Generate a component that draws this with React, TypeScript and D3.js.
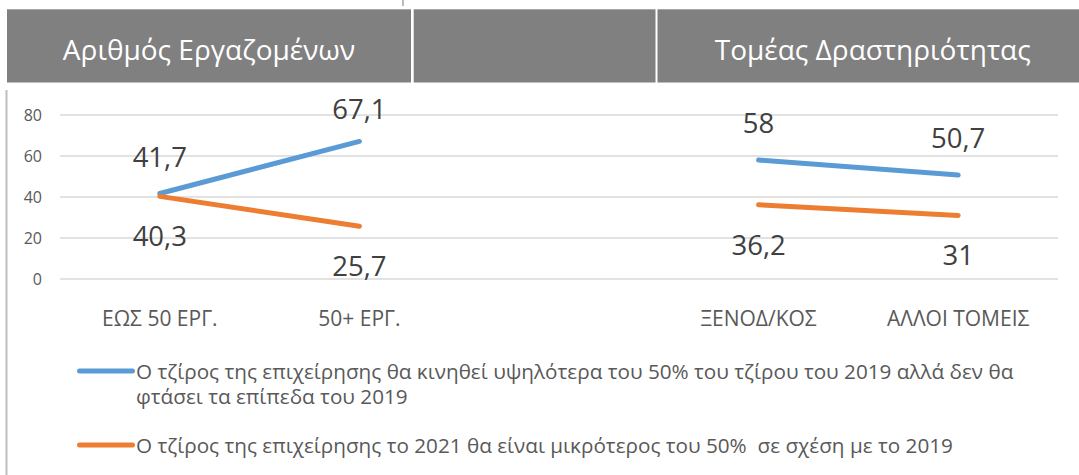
import React, { useEffect, useRef } from 'react';
import * as d3 from 'd3';

// categories (the empty one is the gap between the two groups)
const categories = ['ΕΩΣ 50 ΕΡΓ.', '50+ ΕΡΓ.', '', 'ΞΕΝΟΔ/ΚΟΣ', 'ΑΛΛΟΙ ΤΟΜΕΙΣ'];
const higherValues = [41.7, 67.1, null, 58, 50.7];
const lowerValues = [40.3, 25.7, null, 36.2, 31];
const yTicks = [0, 20, 40, 60, 80];
const groupTitles = ['Αριθμός Εργαζομένων', '', 'Τομέας Δραστηριότητας'];
const higherLegend = [
  'Ο τζίρος της επιχείρησης θα κινηθεί υψηλότερα του 50% του τζίρου του 2019 αλλά δεν θα',
  'φτάσει τα επίπεδα του 2019',
];
const lowerLegend = ['Ο τζίρος της επιχείρησης το 2021 θα είναι μικρότερος του 50%  σε σχέση με το 2019'];

const BLUE = '#5b9bd5';
const ORANGE = '#ed7d31';
const FONT = '"Open Sans", "DejaVu Sans", sans-serif';

export default function App() {
  const ref = useRef<SVGSVGElement>(null);

  useEffect(() => {
    const width = 1079;
    const height = 475;
    const svg = d3.select(ref.current);
    svg.selectAll('*').remove();
    svg.attr('width', width).attr('height', height);

    // header cells
    const cells = [
      { x0: 7, x1: 411 },
      { x0: 413.7, x1: 655.5 },
      { x0: 657.5, x1: 1088 },
    ];
    svg.append('line')
      .attr('x1', 403).attr('x2', 403).attr('y1', 0).attr('y2', 6)
      .attr('stroke', '#a6a6a6').attr('stroke-width', 1.5);
    const head = svg.append('g');
    head.selectAll('rect')
      .data(cells)
      .enter()
      .append('rect')
      .attr('x', d => d.x0)
      .attr('y', 9.3)
      .attr('width', d => d.x1 - d.x0)
      .attr('height', 73.2)
      .attr('fill', '#808080');
    head.selectAll('text')
      .data(groupTitles)
      .enter()
      .append('text')
      .attr('x', (d, i) => (cells[i].x0 + cells[i].x1) / 2)
      .attr('y', 59.5)
      .attr('text-anchor', 'middle')
      .attr('fill', '#ffffff')
      .attr('font-family', FONT)
      .attr('font-size', 28)
      .text(d => d);

    // left frame edge
    svg.append('line')
      .attr('x1', 6.5).attr('x2', 6.5).attr('y1', 90).attr('y2', height)
      .attr('stroke', '#bfbfbf').attr('stroke-width', 2);

    const x = d3.scaleBand<string>().domain(categories).range([60, 1058]).padding(0);
    const cx = (i: number) => (x(categories[i]) as number) + x.bandwidth() / 2;
    const y = d3.scaleLinear().domain([0, 80]).range([279, 115]);

    // gridlines + y labels
    const grid = svg.append('g');
    grid.selectAll('line')
      .data(yTicks)
      .enter()
      .append('line')
      .attr('x1', 60).attr('x2', 1058)
      .attr('y1', d => y(d)).attr('y2', d => y(d))
      .attr('stroke', '#d9d9d9').attr('stroke-width', 1.5);
    grid.selectAll('text')
      .data(yTicks)
      .enter()
      .append('text')
      .attr('x', 42)
      .attr('y', d => y(d))
      .attr('dy', '0.35em')
      .attr('text-anchor', 'end')
      .attr('fill', '#595959')
      .attr('font-family', FONT)
      .attr('font-size', 16)
      .text(d => d);

    // category labels
    svg.append('g')
      .selectAll('text')
      .data(categories)
      .enter()
      .append('text')
      .attr('x', (d, i) => cx(i))
      .attr('y', 326)
      .attr('text-anchor', 'middle')
      .attr('fill', '#595959')
      .attr('font-family', FONT)
      .attr('font-size', 21)
      .text(d => d);

    const series = [
      { values: higherValues, color: BLUE, above: true },
      { values: lowerValues, color: ORANGE, above: false },
    ];
    const fmt = (v: number) => String(v).replace('.', ',');

    series.forEach(s => {
      const pts = s.values.map((v, i) => ({ v, i }));
      const line = d3.line<{ v: number | null; i: number }>()
        .defined(d => d.v != null)
        .x(d => cx(d.i))
        .y(d => y(d.v as number));
      svg.append('path')
        .attr('d', line(pts))
        .attr('fill', 'none')
        .attr('stroke', s.color)
        .attr('stroke-width', 5)
        .attr('stroke-linecap', 'round')
        .attr('stroke-linejoin', 'round');

      svg.append('g')
        .selectAll('text')
        .data(pts.filter(d => d.v != null))
        .enter()
        .append('text')
        .attr('x', d => cx(d.i))
        .attr('y', d => s.above ? Math.max(y(d.v as number) - 27, 119) : y(d.v as number) + 50)
        .attr('text-anchor', 'middle')
        .attr('fill', '#404040')
        .attr('font-family', FONT)
        .attr('font-size', 27.5)
        .text(d => fmt(d.v as number));
    });

    // legend
    const legend = [
      { lines: higherLegend, color: BLUE, y: 371 },
      { lines: lowerLegend, color: ORANGE, y: 445 },
    ];
    legend.forEach(l => {
      svg.append('line')
        .attr('x1', 79.5).attr('x2', 132.5)
        .attr('y1', l.y).attr('y2', l.y)
        .attr('stroke', l.color).attr('stroke-width', 5)
        .attr('stroke-linecap', 'round');
      const t = svg.append('text')
        .attr('fill', '#595959')
        .attr('font-family', FONT)
        .attr('font-size', 20.7)
        .attr('xml:space', 'preserve');
      l.lines.forEach((txt, k) => {
        t.append('tspan')
          .attr('x', 136)
          .attr('y', l.y + 8 + k * 24.5)
          .text(txt);
      });
    });
  }, []);

  return (
    <div style={{ position: 'absolute', left: 0, top: 0 }}>
      <svg ref={ref} style={{ display: 'block' }} />
    </div>
  );
}
